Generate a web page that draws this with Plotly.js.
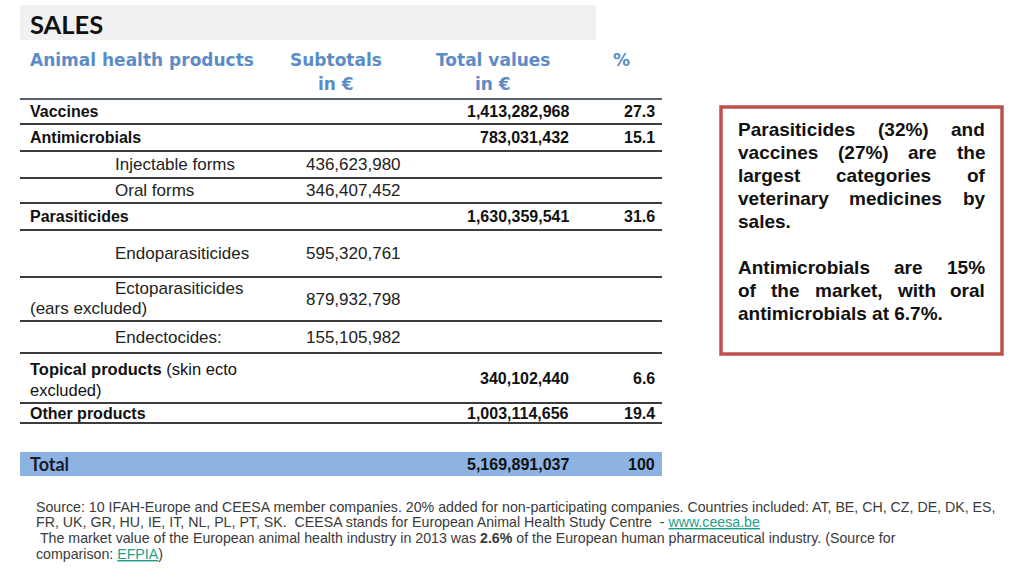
<!DOCTYPE html>
<html>
<head>
<meta charset="utf-8">
<script src="https://cdn.plot.ly/plotly-3.0.1.min.js"></script>
<style>html,body{margin:0;padding:0;background:#fff;}#chart{width:1024px;height:580px;}</style>
</head>
<body>
<div id="chart"></div>
<script>
// ---------------- DATA ----------------
var titleText = "SALES";
var headers = ["Animal health products", "Subtotals<br>in €", "Total values<br>in €", "%"];
var categories = ["Vaccines", "Antimicrobials", "Injectable forms", "Oral forms", "Parasiticides",
  "Endoparasiticides", "Ectoparasiticides (ears excluded)", "Endectocides:",
  "Topical products (skin ecto excluded)", "Other products"];
var levels = [0, 0, 1, 1, 0, 1, 1, 1, 0, 0];
var subtotals = [null, null, 436623980, 346407452, null, 595320761, 879932798, 155105982, null, null];
var totals = [1413282968, 783031432, null, null, 1630359541, null, null, null, 340102440, 1003114656];
var percents = ["27.3", "15.1", null, null, "31.6", null, null, null, "6.6", "19.4"];
var totalLabel = "Total";
var grandTotal = 5169891037;
var grandPercent = "100";
var boxLines = [
  ["Parasiticides (32%) and", true],
  ["vaccines (27%) are the", true],
  ["largest categories of", true],
  ["veterinary medicines by", true],
  ["sales.", false],
  ["", false],
  ["Antimicrobials are 15%", true],
  ["of the market, with oral", true],
  ["antimicrobials at 6.7%.", false]
];
var footerLines = [
  "Source: 10 IFAH-Europe and CEESA member companies. 20% added for non-participating companies. Countries included: AT, BE, CH, CZ, DE, DK, ES,",
  "FR, UK, GR, HU, IE, IT, NL, PL, PT, SK.  CEESA stands for European Animal Health Study Centre  - <span style=\"color:#1f9e89;text-decoration:underline\">www.ceesa.be</span>",
  "\u00a0The market value of the European animal health industry in 2013 was <b>2.6%</b> of the European human pharmaceutical industry. (Source for",
  "comparison: <span style=\"color:#1f9e89;text-decoration:underline\">EFPIA</span>)"
];

// ---------------- LAYOUT CONSTANTS ----------------
var TBL_L = 20, TBL_R = 662;
var rowEdges = [99, 124, 151, 178, 203, 230, 277, 321, 353, 403, 423];
var totalBar = [452, 476];
var colLabel = 30, colIndent = 115, colSub = 306, colTot = 569, colPct = 655;
var hdrX = [30, 336, 493, 621], hdrY = 60, hdrY2 = 84;
var bodyFont = "Liberation Sans, Arial, sans-serif";
var calFont = "Lato, Carlito, sans-serif";
var boxL = 738, boxR = 985, boxTop = 129, boxStep = 23, boxSize = 19;

function fmt(n) { return n.toString().replace(/\B(?=(\d{3})+(?!\d))/g, ","); }

var ann = [];
var shapes = [];

// title box
shapes.push({type: "rect", xref: "x", yref: "y", x0: 20, x1: 596, y0: 5, y1: 40, fillcolor: "#f1f1f1", line: {width: 0}, layer: "below"});
ann.push({x: 30, y: 24, text: "<b>" + titleText + "</b>", xanchor: "left", yanchor: "middle",
  font: {family: calFont, size: 25.5, color: "#111"}});

// headers
var hdrColor = "#5b8cc8";
var hdrParts = headers.map(function (h) { return h.split("<br>"); });
hdrParts.forEach(function (parts, i) {
  parts.forEach(function (p, j) {
    ann.push({x: hdrX[i], y: j === 0 ? hdrY : hdrY2, text: p, xanchor: i === 0 ? "left" : "center", yanchor: "middle",
      font: {family: "DejaVu Sans, sans-serif", size: 17, color: hdrColor, weight: 700}});
  });
});

// horizontal rules
rowEdges.forEach(function (y, i) {
  shapes.push({type: "line", xref: "x", yref: "y", x0: TBL_L, x1: TBL_R, y0: y, y1: y,
    line: {color: i === 0 ? "#56606c" : "#3c3c3c", width: 2}});
});
// total bar
shapes.push({type: "rect", xref: "x", yref: "y", x0: TBL_L, x1: TBL_R, y0: totalBar[0], y1: totalBar[1],
  fillcolor: "#8db3e2", line: {width: 0}, layer: "below"});

// rows
categories.forEach(function (c, i) {
  var yc = (rowEdges[i] + rowEdges[i + 1]) / 2;
  var lvl = levels[i];
  var fontB = {family: bodyFont, size: 16, color: "#111", weight: 700};
  var fontR = {family: bodyFont, size: 17, color: "#222"};
  var p = c.indexOf(" (");
  if (lvl === 0) {
    var t;
    if (p >= 0) {
      var rest = c.slice(p).replace(" excluded)", "<br>excluded)");
      t = "<b>" + c.slice(0, p) + "</b><span style=\"font-weight:normal\">" + rest + "</span>";
      ann.push({x: colLabel, y: yc + 1, text: t, xanchor: "left", yanchor: "middle", align: "left",
        font: {family: bodyFont, size: 16.5, color: "#111"}});
    } else {
      ann.push({x: colLabel, y: yc, text: c, xanchor: "left", yanchor: "middle", font: fontB});
    }
  } else {
    if (p >= 0) {
      ann.push({x: colIndent, y: yc - 11, text: c.slice(0, p), xanchor: "left", yanchor: "middle", font: fontR});
      ann.push({x: colLabel, y: yc + 9, text: c.slice(p + 1), xanchor: "left", yanchor: "middle", font: fontR});
    } else {
      ann.push({x: colIndent, y: yc, text: c, xanchor: "left", yanchor: "middle", font: fontR});
    }
  }
  if (subtotals[i] !== null) {
    ann.push({x: colSub, y: yc, text: fmt(subtotals[i]), xanchor: "left", yanchor: "middle", font: fontR});
  }
  if (totals[i] !== null) {
    ann.push({x: colTot, y: yc, text: fmt(totals[i]), xanchor: "right", yanchor: "middle", font: fontB});
  }
  if (percents[i] !== null) {
    ann.push({x: colPct, y: yc, text: percents[i], xanchor: "right", yanchor: "middle", font: fontB});
  }
});
// total row
var ty = (totalBar[0] + totalBar[1]) / 2;
ann.push({x: colLabel, y: ty, text: "<b>" + totalLabel + "</b>", xanchor: "left", yanchor: "middle",
  font: {family: calFont, size: 18, color: "#1a1a2a"}});
ann.push({x: colTot, y: ty, text: fmt(grandTotal), xanchor: "right", yanchor: "middle",
  font: {family: bodyFont, size: 16, color: "#111", weight: 700}});
ann.push({x: colPct, y: ty, text: grandPercent, xanchor: "right", yanchor: "middle",
  font: {family: bodyFont, size: 16, color: "#111", weight: 700}});

// red text box
shapes.push({type: "rect", xref: "x", yref: "y", x0: 721, x1: 1002, y0: 107, y1: 354,
  fillcolor: "rgba(0,0,0,0)", line: {color: "#c0504d", width: 3.5}});
var cv = document.createElement("canvas").getContext("2d");
cv.font = "bold " + boxSize + "px 'Liberation Sans'";
boxLines.forEach(function (ln, i) {
  var txt = ln[0], just = ln[1];
  if (!txt) return;
  var y = boxTop + i * boxStep;
  var bf = {family: bodyFont, size: boxSize, color: "#111", weight: 700};
  if (!just) {
    ann.push({x: boxL, y: y, text: txt, xanchor: "left", yanchor: "middle", font: bf});
    return;
  }
  var words = txt.split(" ");
  var widths = words.map(function (w) { return cv.measureText(w).width; });
  var sum = widths.reduce(function (a, b) { return a + b; }, 0);
  var gap = (boxR - boxL - sum) / (words.length - 1);
  var x = boxL;
  words.forEach(function (w, k) {
    ann.push({x: x, y: y, text: w, xanchor: "left", yanchor: "middle", font: bf});
    x += widths[k] + gap;
  });
});

// footer
var footY = [507, 522, 538, 554];
footerLines.forEach(function (t, i) {
  ann.push({x: 36, y: footY[i], text: t, xanchor: "left", yanchor: "middle",
    font: {family: bodyFont, size: 14.2, color: "#3a3a3a"}});
});

ann.forEach(function (a) { a.xref = "x"; a.yref = "y"; a.showarrow = false; a.borderpad = 0; a.borderwidth = 0; });

var data = [{
  type: "scatter", mode: "markers", x: rowEdges.map(function () { return TBL_L; }), y: rowEdges,
  marker: {size: 0, opacity: 0}, hoverinfo: "skip", showlegend: false
}];

var layout = {
  width: 1024, height: 580,
  margin: {l: 0, r: 0, t: 0, b: 0},
  paper_bgcolor: "#ffffff", plot_bgcolor: "#ffffff",
  xaxis: {range: [0, 1024], visible: false, fixedrange: true},
  yaxis: {range: [580, 0], visible: false, fixedrange: true},
  showlegend: false,
  annotations: ann,
  shapes: shapes
};
Plotly.newPlot("chart", data, layout, {staticPlot: true, displayModeBar: false});
</script>
</body>
</html>
